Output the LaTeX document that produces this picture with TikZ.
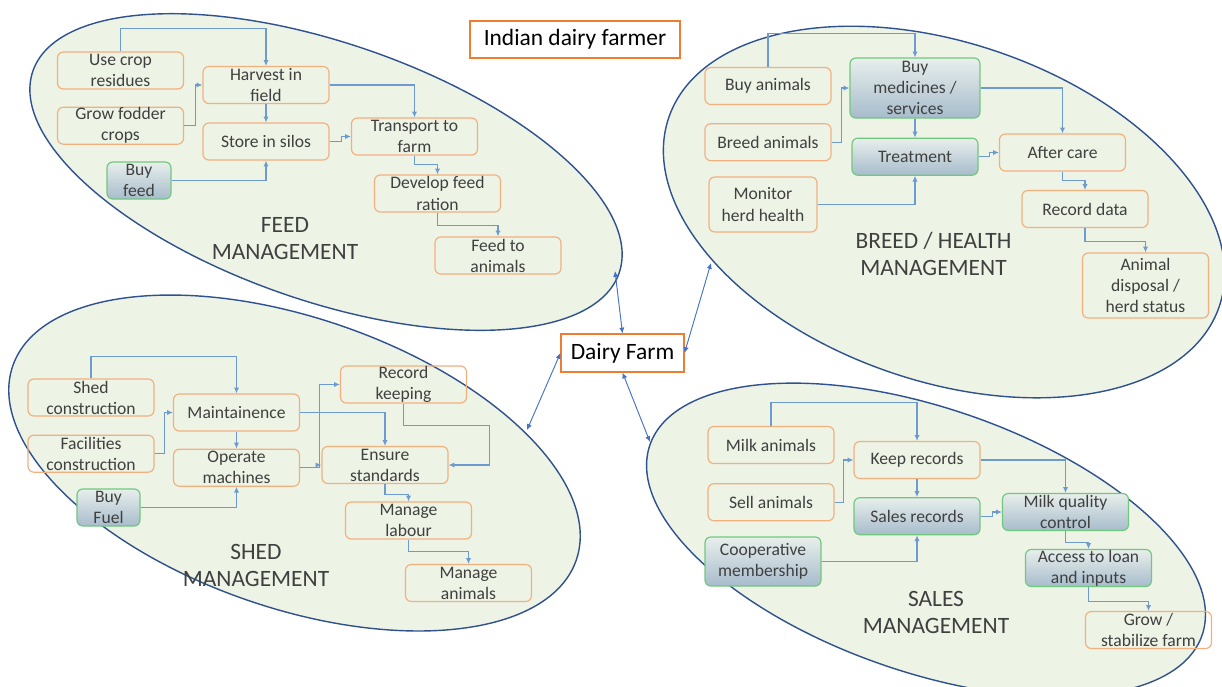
\documentclass[tikz,border=0pt]{standalone}
\usepackage{fontspec}
\setmainfont{Carlito}
\usetikzlibrary{positioning}
\usetikzlibrary{arrows.meta}

\definecolor{zonefill}{HTML}{EDF3E5}
\definecolor{zoneline}{HTML}{2F528F}
\definecolor{boxline}{HTML}{F2B07F}
\definecolor{titleline}{HTML}{ED7D31}
\definecolor{buyline}{HTML}{72C77F}
\definecolor{buytop}{HTML}{E8EFEC}
\definecolor{buybot}{HTML}{A7BCCC}
\definecolor{flowline}{HTML}{6E9BCF}
\definecolor{farmline}{HTML}{4472C4}
\definecolor{boxtext}{HTML}{404040}

\begin{document}
\begin{tikzpicture}[x=0.03cm, y=-0.03cm,
  taskbox/.style={draw=boxline, line width=1pt, rounded corners=5pt, minimum width=3.78cm, minimum height=1.11cm, inner sep=0pt, align=center, text=boxtext, font=\fontsize{15}{18}\selectfont},
  buybox/.style={taskbox, draw=buyline, top color=buytop, bottom color=buybot},
  titlebox/.style={draw=titleline, line width=0.9pt, fill=white, inner sep=0pt, minimum height=1.11cm, font=\fontsize{20}{24}\selectfont},
  zone/.style={draw=zoneline, line width=1.2pt, fill=zonefill},
  zonelabel/.style={align=center, text=boxtext, font=\fontsize{20}{23}\selectfont},
  flow/.style={->, draw=flowline, line width=0.9pt},
  link/.style={<->, draw=farmline, line width=0.8pt},
  >={Latex[length=5pt,width=4.5pt]}]

    \fill[white] (0,0) rectangle (1222,686);
    \useasboundingbox (0,0) rectangle (1222,686);

    % the four areas
    \coordinate (feedc) at (326,172);
    \coordinate (breedc) at (944,212);
    \coordinate (shedc) at (294.5,463);
    \coordinate (salesc) at (926,540);
    \draw[zone, rotate around={-19:(feedc)}] (feedc) ellipse [x radius=310, y radius=129];
    \draw[zone, rotate around={-19:(breedc)}] (breedc) ellipse [x radius=291, y radius=169];
    \draw[zone, rotate around={-19:(shedc)}] (shedc) ellipse [x radius=298, y radius=145];
    \draw[zone, rotate around={-19:(salesc)}] (salesc) ellipse [x radius=292, y radius=132];

    \node[titlebox, minimum width=6.3cm] (title) at (575,39.5) {Indian dairy farmer};
    \node[titlebox, minimum width=3.69cm, minimum height=1.14cm] (dairy) at (622.5,353) {Dairy Farm};

    % feed
    \node[taskbox] (usecrop) at (120.5,70.5) {Use crop\\residues};
    \node[taskbox] (grow) [below=0.51cm of usecrop] {Grow fodder\\crops};
    \node[buybox, minimum width=1.92cm] (buyfeed) at (139,180.5) {Buy\\feed};
    \node[taskbox] (harvest) at (266,85) {Harvest in\\field};
    \node[taskbox] (store) [below=0.55cm of harvest] {Store in silos};
    \node[taskbox] (transport) at (414.5,136.5) {Transport to\\farm};
    \node[taskbox] (develop) at (437.5,193.5) {Develop feed\\ration};
    \node[taskbox] (feedanim) at (498,255.5) {Feed to\\animals};
    \node[zonelabel] (feedlbl) at (285,238.5) {FEED\\MANAGEMENT};

    \draw[flow] (usecrop.north) -- ++(0,-23) -| (harvest.north);
    \draw[flow] (grow.east) -- ++(11,0) |- (harvest.west);
    \draw[flow] (harvest) -- (store);
    \draw[flow] (harvest.east) -| (transport.north);
    \draw[flow] (store.east) -- ++(12,0) |- (transport.west);
    \draw[flow] (buyfeed.east) -| (store.south);
    \draw[flow] (transport.south) -- ++(0,9) -| (develop.north);
    \draw[flow] (develop.south) -- ++(0,13) -| (feedanim.north);

    % breed / health
    \node[taskbox] (buyanim) at (768,86) {Buy animals};
    \node[taskbox] (breedanim) [below=0.54cm of buyanim] {Breed animals};
    \node[taskbox, minimum width=3.24cm, minimum height=1.65cm] (monitor) at (763,204.5) {Monitor\\herd health};
    \node[buybox, minimum width=3.9cm, minimum height=1.8cm] (buymed) at (915,88) {Buy\\medicines /\\services};
    \node[buybox] (treatment) [below=0.57cm of buymed] {Treatment};
    \node[taskbox] (aftercare) at (1062.5,152.5) {After care};
    \node[taskbox] (recorddata) at (1085,209) {Record data};
    \node[taskbox, minimum height=1.95cm] (disposal) at (1145.5,285.5) {Animal\\disposal /\\herd status};
    \node[zonelabel] (breedlbl) at (933.5,254) {BREED / HEALTH\\MANAGEMENT};

    \draw[flow] (buyanim.north) -- ++(0,-33) -| (buymed.north);
    \draw[flow] (breedanim.east) -- ++(10,0) |- (buymed.west);
    \draw[flow] (buymed) -- (treatment);
    \draw[flow] (buymed.east) -| (aftercare.north);
    \draw[flow] (treatment.east) -- ++(11,0) |- (aftercare.west);
    \draw[flow] (monitor.east) -| (treatment.south);
    \draw[flow] (aftercare.south) -- ++(0,9) -| (recorddata.north);
    \draw[flow] (recorddata.south) -- ++(0,13) -| (disposal.north);

    % shed
    \node[taskbox] (shedcon) at (91,397.5) {Shed\\construction};
    \node[taskbox] (facil) [below=0.54cm of shedcon] {Facilities\\construction};
    \node[buybox, minimum width=1.89cm] (buyfuel) at (108.5,507.5) {Buy\\Fuel};
    \node[taskbox] (maint) at (236.5,412.5) {Maintainence};
    \node[taskbox] (operate) [below=0.51cm of maint] {Operate\\machines};
    \node[taskbox] (recordkeep) at (403.5,384.5) {Record\\keeping};
    \node[taskbox] (ensure) at (385,465) {Ensure\\standards};
    \node[taskbox] (labour) at (408.5,520.5) {Manage\\labour};
    \node[taskbox] (manageanim) at (468.5,583) {Manage\\animals};
    \node[zonelabel] (shedlbl) at (256,565.5) {SHED\\MANAGEMENT};

    \draw[flow] (shedcon.north) -- ++(0,-22) -| (maint.north);
    \draw[flow] (facil.east) -- ++(10,0) |- (maint.west);
    \draw[flow] (maint) -- (operate);
    \draw[flow] (maint.east) -| (ensure.north);
    \draw[flow] (operate.east) -- ++(19,0) |- (ensure.west);
    \draw[flow] (operate.east) -- ++(19,0) |- (recordkeep.west);
    \draw[flow] (recordkeep.south) -- ++(0,22) -- ++(86,0) |- (ensure.east);
    \draw[flow] (buyfuel.east) -| (operate.south);
    \draw[flow] (ensure.south) -- ++(0,10) -| (labour.north);
    \draw[flow] (labour.south) -- ++(0,12) -| (manageanim.north);

    % sales
    \node[taskbox] (milk) at (771,445) {Milk animals};
    \node[taskbox] (sell) [below=0.57cm of milk] {Sell animals};
    \node[buybox, minimum width=3.48cm, minimum height=1.47cm] (coop) at (763,561.5) {Cooperative\\membership};
    \node[taskbox] (keep) at (917,460) {Keep records};
    \node[buybox] (salesrec) [below=0.54cm of keep] {Sales records};
    \node[buybox] (quality) at (1065.5,512) {Milk quality\\control};
    \node[buybox] (access) at (1088.5,568) {Access to loan\\and inputs};
    \node[taskbox] (growfarm) at (1148.5,630) {Grow /\\stabilize farm};
    \node[zonelabel] (saleslbl) at (936,612.5) {SALES\\MANAGEMENT};

    \draw[flow] (milk.north) -- ++(0,-23) -| (keep.north);
    \draw[flow] (sell.east) -- ++(9,0) |- (keep.west);
    \draw[flow] (keep) -- (salesrec);
    \draw[flow] (keep.east) -| (quality.north);
    \draw[flow] (salesrec.east) -- ++(12,0) |- (quality.west);
    \draw[flow] (coop.east) -| (salesrec.south);
    \draw[flow] (quality.south) -- ++(0,11) -| (access.north);
    \draw[flow] (access.south) -- ++(0,14) -| (growfarm.north);

    % links to the farm
    \coordinate (feedend) at (615,271);
    \coordinate (breedend) at (711,263);
    \coordinate (shedend) at (527,430);
    \coordinate (salesend) at (650,442);
    \draw[link] (dairy.north) -- (feedend);
    \draw[link] (dairy.east) -- (breedend);
    \draw[link] (dairy.west) -- (shedend);
    \draw[link] (dairy.south) -- (salesend);
\end{tikzpicture}
\end{document}
